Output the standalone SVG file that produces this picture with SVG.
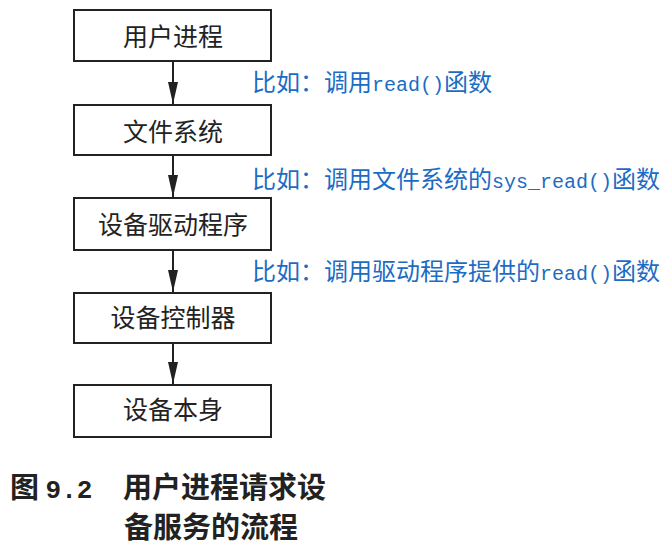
<svg xmlns="http://www.w3.org/2000/svg" width="670" height="557" viewBox="0 0 670 557">
<defs>
<style>
.box{fill:#fff;stroke:#222;stroke-width:2}
.lbl{font-family:"Noto Sans CJK SC",sans-serif;font-size:25px;fill:#222;text-anchor:middle}
.note{font-family:"Noto Sans CJK SC",sans-serif;font-size:24px;fill:#1c6cc4}
.lat{font-family:"Liberation Mono",monospace;font-size:20px}
.cap{font-family:"Noto Sans CJK SC",sans-serif;font-size:29px;font-weight:bold;fill:#222}
.conn{stroke:#222;stroke-width:2;fill:none;marker-end:url(#ah)}
</style>
<marker id="ah" markerWidth="22" markerHeight="10" refX="22" refY="5" orient="auto" markerUnits="userSpaceOnUse" viewBox="0 0 22 10">
<path d="M0,0 L22,5 L0,10 Z" fill="#222"/>
</marker>
</defs>
<rect width="670" height="557" fill="#fff"/>
<g id="connectors">
<line class="conn" x1="173" y1="61" x2="173" y2="104"/>
<line class="conn" x1="173" y1="155" x2="173" y2="197"/>
<line class="conn" x1="173" y1="250" x2="173" y2="292"/>
<line class="conn" x1="173" y1="343" x2="173" y2="384"/>
</g>
<g id="n1"><rect class="box" x="74" y="10" width="197" height="51"/><text class="lbl" x="173" y="46">用户进程</text></g>
<g id="n2"><rect class="box" x="74" y="105" width="197" height="50"/><text class="lbl" x="173" y="141">文件系统</text></g>
<g id="n3"><rect class="box" x="74" y="198" width="197" height="52"/><text class="lbl" x="173" y="234">设备驱动程序</text></g>
<g id="n4"><rect class="box" x="74" y="293" width="197" height="50"/><text class="lbl" x="173" y="327">设备控制器</text></g>
<g id="n5"><rect class="box" x="74" y="385" width="197" height="52"/><text class="lbl" x="173" y="419">设备本身</text></g>
<g id="notes">
<text class="note" x="252" y="91">比如：调用<tspan class="lat">read()</tspan>函数</text>
<text class="note" x="252" y="188">比如：调用文件系统的<tspan class="lat">sys_read()</tspan>函数</text>
<text class="note" x="252" y="280">比如：调用驱动程序提供的<tspan class="lat">read()</tspan>函数</text>
</g>
<g id="caption">
<text class="cap" x="10" y="498">图 <tspan font-family="Liberation Mono,monospace" font-size="26">9.2</tspan></text>
<text class="cap" x="123" y="498">用户进程请求设</text>
<text class="cap" x="124" y="538">备服务的流程</text>
</g>
</svg>
